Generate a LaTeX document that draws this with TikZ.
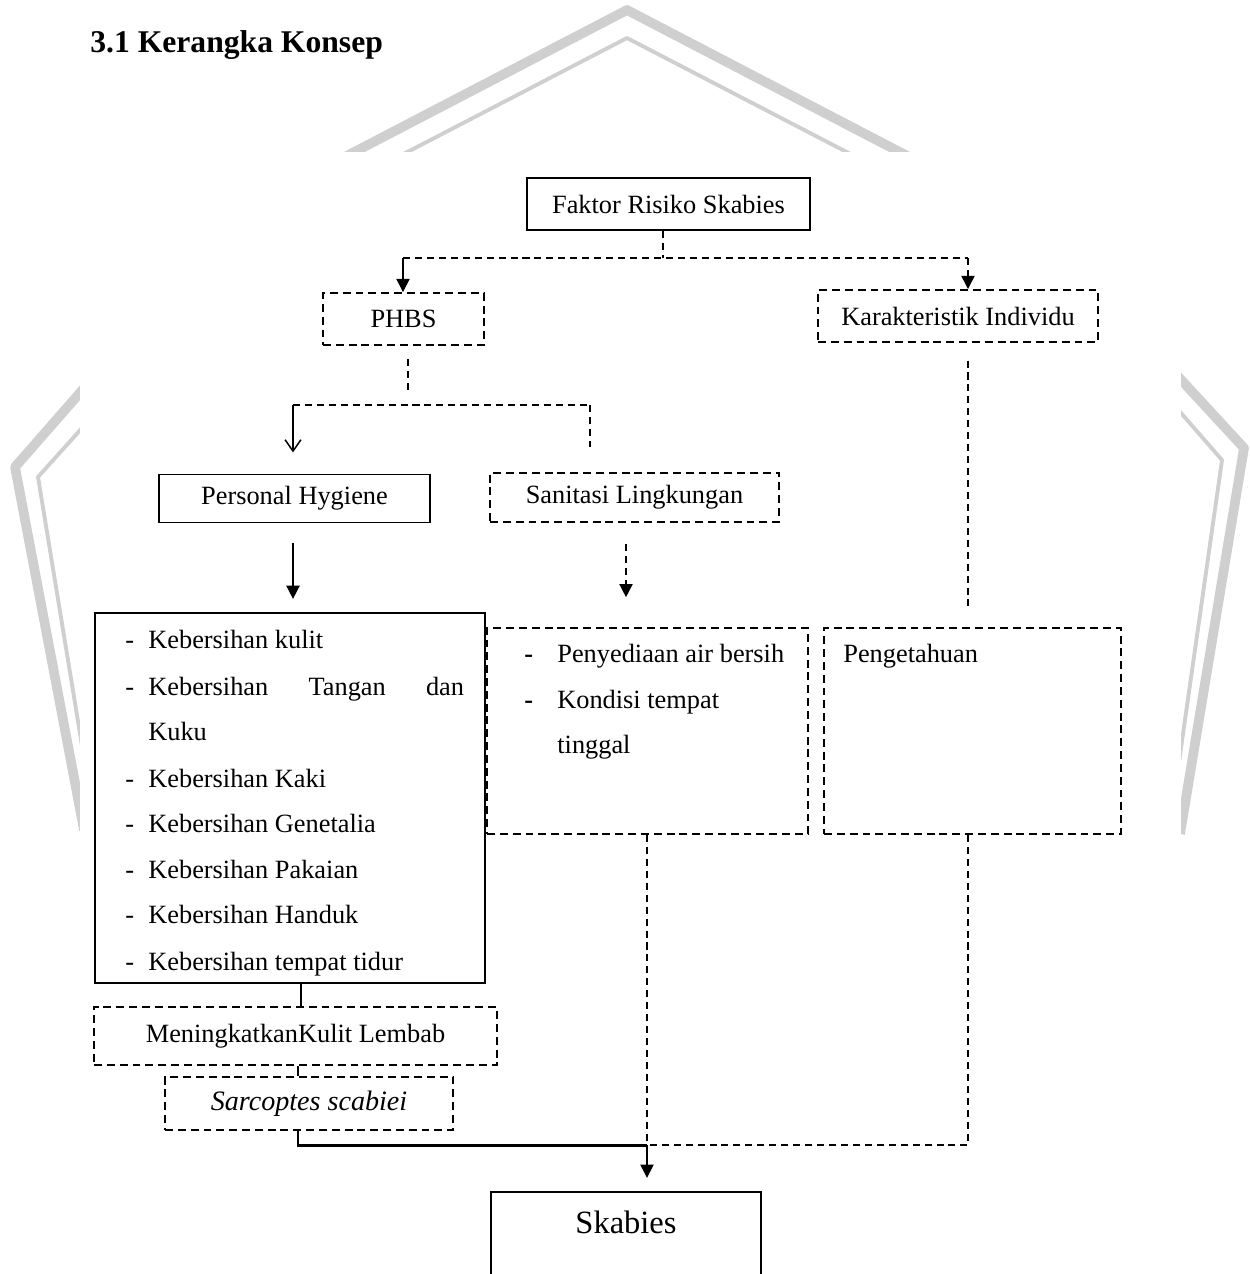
\documentclass[tikz,border=0pt]{standalone}
\usepackage{fontspec}
\setmainfont{Liberation Serif}
\usetikzlibrary{arrows.meta,calc}
\begin{document}
\begin{tikzpicture}[x=0.02cm,y=-0.02cm,
  wm/.style={draw=black!19, line join=round},
  solidbox/.style={draw, line width=1.1pt, inner sep=0pt},
  dashbox/.style={draw, line width=1.1pt, dash pattern=on 4.5pt off 2.8pt, inner sep=0pt},
  conn/.style={line width=0.85pt},
  dconn/.style={line width=0.85pt, dash pattern=on 4pt off 2.8pt},
  tri/.style={-{Triangle[length=7.5pt,width=7.5pt]}},
  barb/.style={-{Straight Barb[length=6.5pt,width=9pt]}},
  lbl/.style={font=\fontsize{15}{18}\selectfont, inner sep=0pt},
]
\clip (0,0) rectangle (1249,1274);
% watermark
\draw[wm, line width=5.5pt] (84,830) -- (15,467) -- (100,370) -- (339,160) -- (627,10) -- (915,160) -- (1160,357) -- (1244,448) -- (1180,834);
\draw[wm, line width=2.2pt] (86,770) -- (38,477) -- (100,408) -- (392,160) -- (627,38) -- (862,160) -- (1160,389) -- (1222,460) -- (1175,790);
\fill[white] (80,152) rectangle (1181,1274);

% title
\node[font=\fontsize{18}{22}\selectfont\bfseries, anchor=base west, inner sep=0pt] (title) at (90,53) {3.1 Kerangka Konsep};

% boxes
\node[solidbox, lbl, minimum width=5.66cm, minimum height=1.04cm] (faktor) at (668.5,204) {Faktor Risiko Skabies};
\node[dashbox, lbl, minimum width=3.22cm, minimum height=1.04cm] (phbs) at (403.5,319) {PHBS};
\node[dashbox, lbl, minimum width=5.6cm, minimum height=1.04cm] (karak) at (958,316) {Karakteristik Individu};
\node[solidbox, lbl, minimum width=5.42cm, minimum height=0.96cm] (hyg) at (294.5,498.5) {Personal Hygiene};
\node[dashbox, lbl, minimum width=5.78cm, minimum height=0.98cm] (sanit) at (634.5,497.5) {Sanitasi Lingkungan};
\node[solidbox, minimum width=7.8cm, minimum height=7.4cm] (hyglist) at (290,798) {};
\node[dashbox, minimum width=6.42cm, minimum height=4.12cm] (sanlist) at (647.5,731) {};
\node[dashbox, minimum width=5.94cm, minimum height=4.12cm] (peng) at (972.5,731) {};
\node[dashbox, lbl, minimum width=8.06cm, minimum height=1.16cm] (lembab) at (295.5,1036) {MeningkatkanKulit Lembab};
\node[dashbox, font=\fontsize{16}{19}\selectfont\itshape, minimum width=5.76cm, minimum height=1.06cm] (sarc) at (309,1103.5) {Sarcoptes scabiei};
\node[solidbox, anchor=north, minimum width=5.4cm, minimum height=2.2cm] (skab) at (626,1191) {};
\node[font=\fontsize{18.5}{22}\selectfont, inner sep=0pt, anchor=base] (skabtxt) at (626,1233) {Skabies};

% personal hygiene list
\node[lbl, anchor=base west] (h1d) at (125,648) {-};
\node[lbl, anchor=base west] (h1) at (148,648) {Kebersihan kulit};
\node[lbl, anchor=base west] (h2d) at (125,695) {-};
\node[lbl, anchor=base west] (h2) at (148,695) {\makebox[179.7pt][s]{Kebersihan Tangan dan}};
\node[lbl, anchor=base west] (h3) at (148,740) {Kuku};
\node[lbl, anchor=base west] (h4d) at (125,787) {-};
\node[lbl, anchor=base west] (h4) at (148,787) {Kebersihan Kaki};
\node[lbl, anchor=base west] (h5d) at (125,832) {-};
\node[lbl, anchor=base west] (h5) at (148,832) {Kebersihan Genetalia};
\node[lbl, anchor=base west] (h6d) at (125,878) {-};
\node[lbl, anchor=base west] (h6) at (148,878) {Kebersihan Pakaian};
\node[lbl, anchor=base west] (h7d) at (125,923) {-};
\node[lbl, anchor=base west] (h7) at (148,923) {Kebersihan Handuk};
\node[lbl, anchor=base west] (h8d) at (125,970) {-};
\node[lbl, anchor=base west] (h8) at (148,970) {Kebersihan tempat tidur};

% sanitasi list
\node[lbl, anchor=base west] (s1d) at (524,662) {\textbf{-}};
\node[lbl, anchor=base west] (s1) at (557,662) {Penyediaan air bersih};
\node[lbl, anchor=base west] (s2d) at (524,708) {\textbf{-}};
\node[lbl, anchor=base west] (s2) at (557,708) {Kondisi tempat};
\node[lbl, anchor=base west] (s3) at (557,753) {tinggal};

% pengetahuan
\node[lbl, anchor=base west] (p1) at (843,662) {Pengetahuan};

% connectors
\coordinate (fk) at (663,258);
\coordinate (fkl) at (403,258);
\coordinate (fkr) at (968,258);
\draw[dconn] (faktor.south -| fk) -- (fk);
\draw[dconn] (fkl) -- (fkr);
\draw[conn, tri] (fkl) -- (phbs.north -| fkl);
\draw[dconn, tri] (fkr) -- (karak.north -| fkr);

\coordinate (pb) at (408,405);
\coordinate (pbl) at (293,405);
\coordinate (pbr) at (590,405);
\draw[dconn, shorten <=7.5pt, shorten >=6pt] (phbs.south -| pb) -- (pb);
\draw[dconn] (pbl) -- (pbr);
\draw[conn, barb, shorten >=12pt] (pbl) -- (hyg.north -| pbl);
\draw[dconn, shorten >=14pt] (pbr) -- (sanit.north -| pbr);

\draw[conn, tri, shorten <=11pt, shorten >=7.5pt] (hyg.south -| pbl) -- (hyglist.north -| pbl);
\coordinate (sx) at (626,560);
\draw[dconn, tri, shorten <=12pt, shorten >=17pt] (sanit.south -| sx) -- (sanlist.north -| sx);
\draw[dconn, shorten <=10pt, shorten >=12pt] (karak.south -| fkr) -- (peng.north -| fkr);

\coordinate (hx) at (301,995);
\draw[conn] (hyglist.south -| hx) -- (lembab.north -| hx);
\coordinate (lx) at (298,1070);
\draw[conn] (lembab.south -| lx) -- (sarc.north -| lx);
\coordinate (jn) at (647,1145);
\draw[conn, line width=1.7pt] (sarc.south -| lx) |- (jn);
\draw[dconn] (sanlist.south -| jn) -- (jn);
\draw[dconn] (peng.south -| fkr) |- (jn);
\draw[conn, tri, shorten >=7.5pt] (jn) -- (skab.north -| jn);
\end{tikzpicture}
\end{document}
